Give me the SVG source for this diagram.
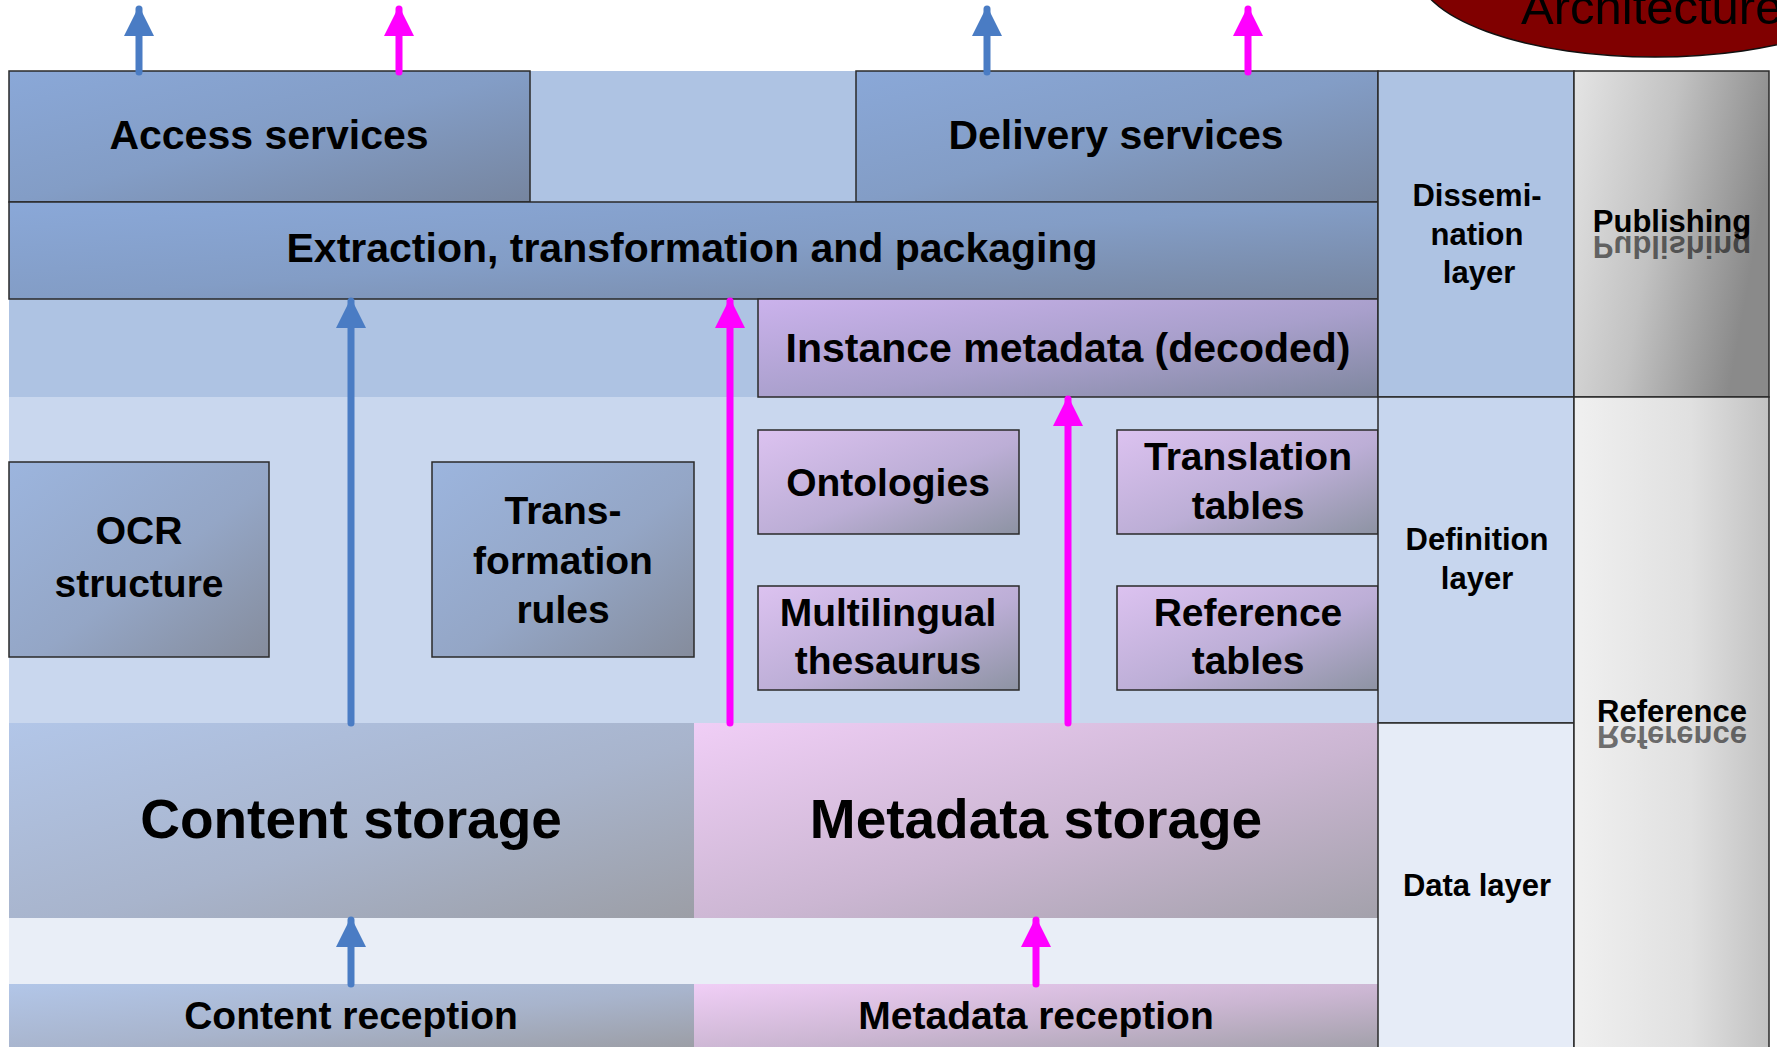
<svg xmlns="http://www.w3.org/2000/svg" width="1777" height="1047" viewBox="0 0 1777 1047">
<defs>
<linearGradient id="gBlue" x1="0" y1="0" x2="1" y2="1"><stop offset="0" stop-color="#8aa8d8"/><stop offset="0.5" stop-color="#839dc6"/><stop offset="1" stop-color="#76859f"/></linearGradient>
<linearGradient id="gBox" x1="0" y1="0" x2="1" y2="1"><stop offset="0" stop-color="#9cb5de"/><stop offset="0.55" stop-color="#94a6c6"/><stop offset="1" stop-color="#858c9c"/></linearGradient>
<linearGradient id="gInst" x1="0" y1="0" x2="1" y2="1"><stop offset="0" stop-color="#cbb2ec"/><stop offset="0.55" stop-color="#a89fcb"/><stop offset="1" stop-color="#7f879f"/></linearGradient>
<linearGradient id="gPurp" x1="0" y1="0" x2="1" y2="1"><stop offset="0" stop-color="#dcc2f0"/><stop offset="0.55" stop-color="#bcaed6"/><stop offset="1" stop-color="#8d93a3"/></linearGradient>
<linearGradient id="gCS" x1="0" y1="0" x2="1" y2="1"><stop offset="0" stop-color="#b2c6e8"/><stop offset="0.55" stop-color="#a8b4cc"/><stop offset="1" stop-color="#9c9ea6"/></linearGradient>
<linearGradient id="gMS" x1="0" y1="0" x2="1" y2="1"><stop offset="0" stop-color="#f0cef6"/><stop offset="0.55" stop-color="#cbb6d2"/><stop offset="1" stop-color="#a3a1ab"/></linearGradient>
<linearGradient id="gPub" x1="0" y1="0" x2="1" y2="0.3"><stop offset="0" stop-color="#e4e4e4"/><stop offset="0.5" stop-color="#c2c2c2"/><stop offset="1" stop-color="#8a8a8a"/></linearGradient>
<linearGradient id="gRef" x1="0" y1="0" x2="1" y2="0"><stop offset="0" stop-color="#f0f0f0"/><stop offset="0.6" stop-color="#e0e0e0"/><stop offset="1" stop-color="#c2c2c2"/></linearGradient>
<marker id="aB" viewBox="0 0 10 10" refX="9" refY="5" markerWidth="4.3" markerHeight="4.3" markerUnits="strokeWidth" orient="auto"><path d="M0,0 L10,5 L0,10 z" fill="#4a7cc4"/></marker>
<marker id="aM" viewBox="0 0 10 10" refX="9" refY="5" markerWidth="4.3" markerHeight="4.3" markerUnits="strokeWidth" orient="auto"><path d="M0,0 L10,5 L0,10 z" fill="#ff00ff"/></marker>
</defs>
<style>
.t{font-family:"Liberation Sans",Arial,sans-serif;font-weight:bold;fill:#000;text-anchor:middle}
.m{font-size:41px}
.b{font-size:39px}
.big{font-size:55px}
.s{font-size:31px}
.bd{stroke:#2a2a2a;stroke-width:1.5}
.ab{stroke:#4a7cc4;stroke-width:7;stroke-linecap:round;fill:none;marker-end:url(#aB)}
.am{stroke:#ff00ff;stroke-width:7;stroke-linecap:round;fill:none;marker-end:url(#aM)}
</style>
<rect width="1777" height="1047" fill="#ffffff"/>
<g id="backgrounds">
<rect x="9" y="71" width="1369" height="326" fill="#aec3e3"/>
<rect x="9" y="397" width="1369" height="326" fill="#c9d7ee"/>
<rect x="9" y="918" width="1369" height="66" fill="#e9eef7"/>
</g>
<g id="architecture">
<ellipse cx="1655" cy="-30" rx="238" ry="87" fill="#800000" stroke="#111" stroke-width="1.5"/>
<text class="t" x="1521" y="24" style="font-weight:normal;font-size:49px;text-anchor:start">Architecture</text>
</g>
<g id="access-services"><rect x="9" y="71" width="521" height="131" fill="url(#gBlue)" class="bd"/><text class="t m" x="269" y="149">Access services</text></g>
<g id="delivery-services"><rect x="856" y="71" width="522" height="131" fill="url(#gBlue)" class="bd"/><text class="t m" x="1116" y="149">Delivery services</text></g>
<g id="extraction"><rect x="9" y="202" width="1369" height="97" fill="url(#gBlue)" class="bd"/><text class="t m" x="692" y="262">Extraction, transformation and packaging</text></g>
<g id="instance-metadata"><rect x="758" y="299" width="620" height="98" fill="url(#gInst)" class="bd"/><text class="t m" x="1068" y="362">Instance metadata (decoded)</text></g>
<g id="ocr-structure"><rect x="9" y="462" width="260" height="195" fill="url(#gBox)" class="bd"/><text class="t b" x="139" y="544">OCR</text><text class="t b" x="139" y="597">structure</text></g>
<g id="transformation-rules"><rect x="432" y="462" width="262" height="195" fill="url(#gBox)" class="bd"/><text class="t b" x="563" y="524">Trans-</text><text class="t b" x="563" y="574">formation</text><text class="t b" x="563" y="623">rules</text></g>
<g id="ontologies"><rect x="758" y="430" width="261" height="104" fill="url(#gPurp)" class="bd"/><text class="t b" x="888" y="496">Ontologies</text></g>
<g id="translation-tables"><rect x="1117" y="430" width="261" height="104" fill="url(#gPurp)" class="bd"/><text class="t b" x="1248" y="470">Translation</text><text class="t b" x="1248" y="519">tables</text></g>
<g id="multilingual-thesaurus"><rect x="758" y="586" width="261" height="104" fill="url(#gPurp)" class="bd"/><text class="t b" x="888" y="626">Multilingual</text><text class="t b" x="888" y="674">thesaurus</text></g>
<g id="reference-tables"><rect x="1117" y="586" width="261" height="104" fill="url(#gPurp)" class="bd"/><text class="t b" x="1248" y="626">Reference</text><text class="t b" x="1248" y="674">tables</text></g>
<g id="content-storage"><rect x="9" y="723" width="685" height="195" fill="url(#gCS)"/><text class="t big" x="351" y="838">Content storage</text></g>
<g id="metadata-storage"><rect x="694" y="723" width="684" height="195" fill="url(#gMS)"/><text class="t big" x="1036" y="838">Metadata storage</text></g>
<g id="content-reception"><rect x="9" y="984" width="685" height="63" fill="url(#gCS)"/><text class="t b" x="351" y="1029">Content reception</text></g>
<g id="metadata-reception"><rect x="694" y="984" width="684" height="63" fill="url(#gMS)"/><text class="t b" x="1036" y="1029">Metadata reception</text></g>
<g id="dissemination-layer"><rect x="1378" y="71" width="196" height="326" fill="#aec3e3" class="bd"/><text class="t s" x="1477" y="206">Dissemi-</text><text class="t s" x="1477" y="245">nation</text><text class="t s" x="1479" y="283">layer</text></g>
<g id="definition-layer"><rect x="1378" y="397" width="196" height="326" fill="#c7d6ee" class="bd"/><text class="t s" x="1477" y="550">Definition</text><text class="t s" x="1477" y="589">layer</text></g>
<g id="data-layer"><rect x="1378" y="723" width="196" height="330" fill="#e6ecf7" class="bd"/><text class="t s" x="1477" y="896">Data layer</text></g>
<g id="publishing"><rect x="1574" y="71" width="195" height="326" fill="url(#gPub)" class="bd"/><text class="t s" x="1672" y="232">Publishing</text><text class="t s" x="1672" y="-236" transform="scale(1,-1)" fill-opacity="0.55">Publishing</text></g>
<g id="reference"><rect x="1574" y="397" width="195" height="656" fill="url(#gRef)" class="bd"/><text class="t s" x="1672" y="722">Reference</text><text class="t s" x="1672" y="-726" transform="scale(1,-1)" fill-opacity="0.55">Reference</text></g>
<g id="connectors">
<line class="ab" x1="139" y1="72" x2="139" y2="9"/>
<line class="am" x1="399" y1="72" x2="399" y2="9"/>
<line class="ab" x1="987" y1="72" x2="987" y2="9"/>
<line class="am" x1="1248" y1="72" x2="1248" y2="9"/>
<line class="ab" x1="351" y1="723" x2="351" y2="301"/>
<line class="am" x1="730" y1="723" x2="730" y2="301"/>
<line class="am" x1="1068" y1="723" x2="1068" y2="399"/>
<line class="ab" x1="351" y1="984" x2="351" y2="920"/>
<line class="am" x1="1036" y1="984" x2="1036" y2="920"/>
</g>
</svg>
